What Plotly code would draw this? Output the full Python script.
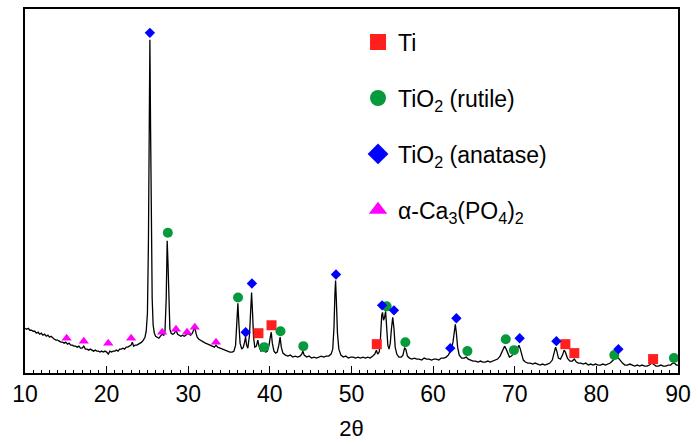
import plotly.graph_objects as go

# XRD pattern: diffraction angle (2θ, degrees) and intensity (a.u.)
two_theta = [
    10.0, 10.2, 10.4, 10.6, 10.8, 11.0, 11.2, 11.4, 11.6, 11.8, 12.0, 12.2, 12.4, 12.6, 12.8,
    13.0, 13.2, 13.4, 13.6, 13.8, 14.0, 14.2, 14.4, 14.6, 14.8, 15.0, 15.2, 15.4, 15.6, 15.8,
    16.0, 16.2, 16.4, 16.6, 16.8, 17.0, 17.2, 17.4, 17.6, 17.8, 18.0, 18.2, 18.4, 18.6, 18.8,
    19.0, 19.2, 19.4, 19.6, 19.8, 20.0, 20.2, 20.4, 20.6, 20.8, 21.0, 21.2, 21.4, 21.6, 21.8,
    22.0, 22.2, 22.4, 22.6, 22.8, 23.0, 23.15, 23.3, 23.5, 23.7, 23.9, 24.1, 24.3, 24.5, 24.7,
    24.85, 25.0, 25.12, 25.22, 25.3, 25.38, 25.48, 25.58, 25.7, 25.85, 26.0, 26.2, 26.4, 26.6,
    26.8, 27.0, 27.15, 27.3, 27.42, 27.52, 27.62, 27.75, 27.9, 28.1, 28.3, 28.5, 28.7, 28.9,
    29.1, 29.3, 29.5, 29.7, 29.9, 30.1, 30.3, 30.5, 30.65, 30.8, 30.95, 31.1, 31.3, 31.5, 31.8,
    32.1, 32.4, 32.7, 33.0, 33.2, 33.4, 33.6, 33.9, 34.2, 34.5, 34.8, 35.1, 35.4, 35.6, 35.8,
    35.95, 36.08, 36.2, 36.35, 36.55, 36.75, 36.9, 37.02, 37.15, 37.3, 37.5, 37.65, 37.76,
    37.88, 38.0, 38.15, 38.35, 38.52, 38.7, 38.9, 39.1, 39.3, 39.5, 39.7, 39.9, 40.05, 40.17,
    40.3, 40.5, 40.7, 40.9, 41.1, 41.25, 41.4, 41.6, 41.9, 42.2, 42.5, 42.8, 43.1, 43.4, 43.7,
    43.9, 44.05, 44.2, 44.5, 44.8, 45.1, 45.4, 45.7, 46.0, 46.3, 46.6, 46.9, 47.2, 47.5, 47.7,
    47.85, 47.97, 48.05, 48.15, 48.28, 48.45, 48.7, 49.0, 49.3, 49.6, 49.9, 50.2, 50.5, 50.8,
    51.1, 51.4, 51.7, 52.0, 52.3, 52.6, 52.85, 53.05, 53.2, 53.4, 53.55, 53.7, 53.8, 53.92,
    54.05, 54.18, 54.3, 54.45, 54.6, 54.75, 54.9, 55.05, 55.2, 55.35, 55.55, 55.8, 56.1, 56.3,
    56.5, 56.65, 56.85, 57.1, 57.4, 57.7, 58.0, 58.3, 58.6, 58.9, 59.2, 59.5, 59.8, 60.1, 60.4,
    60.7, 61.0, 61.3, 61.6, 61.85, 62.05, 62.25, 62.45, 62.6, 62.72, 62.85, 63.0, 63.2, 63.5,
    63.8, 64.05, 64.3, 64.6, 64.9, 65.2, 65.5, 65.8, 66.1, 66.4, 66.7, 67.0, 67.3, 67.6, 67.9,
    68.2, 68.5, 68.75, 68.95, 69.15, 69.35, 69.6, 69.85, 70.1, 70.35, 70.5, 70.65, 70.85, 71.05,
    71.3, 71.6, 71.9, 72.2, 72.5, 72.8, 73.1, 73.4, 73.7, 74.0, 74.3, 74.6, 74.85, 75.0, 75.15,
    75.35, 75.6, 75.85, 76.05, 76.2, 76.45, 76.75, 77.05, 77.3, 77.55, 77.8, 78.1, 78.4, 78.7,
    79.0, 79.3, 79.6, 79.9, 80.2, 80.5, 80.8, 81.1, 81.4, 81.7, 81.95, 82.2, 82.45, 82.7, 82.95,
    83.2, 83.5, 83.8, 84.1, 84.4, 84.7, 85.0, 85.3, 85.6, 85.9, 86.2, 86.5, 86.8, 87.0, 87.3,
    87.6, 87.9, 88.2, 88.5, 88.8, 89.1, 89.35, 89.55, 89.8, 90.0,
]
intensity = [
    45, 44, 45, 43, 43, 42, 42, 40, 41, 39, 40, 38, 39, 37, 38,
    36, 37, 35, 34, 33, 33, 32, 31, 31, 30, 31, 29, 30, 28, 28,
    27, 27, 26, 27, 25, 25, 27, 24, 24, 23, 24, 23, 22, 23, 22,
    22, 21, 22, 21, 22, 21, 19, 22, 21, 22, 22, 23, 22, 24, 24,
    25, 24, 26, 26, 27, 28, 31, 27, 28, 28, 29, 30, 31, 33, 36,
    42, 60, 130, 250, 335, 250, 140, 75, 48, 40, 37, 36, 35, 37,
    39, 38, 42, 75, 133, 110, 65, 44, 40, 39, 40, 43, 39, 38,
    37, 38, 37, 38, 40, 39, 38, 40, 44, 46, 40, 36, 34, 33, 31,
    30, 29, 28, 27, 26, 28, 26, 25, 24, 23, 22, 21, 21, 22, 28,
    50, 70, 50, 30, 24, 26, 31, 36, 28, 25, 38, 65, 81,
    60, 36, 26, 27, 33, 26, 22, 23, 25, 21, 22, 28, 36, 41,
    30, 22, 20, 21, 28, 36, 26, 20, 18, 17, 18, 16, 17, 16, 17,
    19, 22, 18, 16, 17, 15, 16, 15, 16, 17, 16, 17, 17, 19, 24,
    45, 80, 93, 72, 40, 24, 18, 16, 17, 15, 16, 16, 15, 16,
    15, 16, 15, 16, 15, 17, 19, 23, 19, 21, 35, 58, 61, 53,
    56, 62, 50, 28, 24, 30, 45, 56, 45, 26, 19, 16, 16, 18,
    25, 24, 17, 15, 14, 15, 14, 14, 13, 15, 14, 14, 13, 14, 14,
    13, 15, 15, 16, 18, 21, 24, 32, 44, 49, 40, 26, 18, 15,
    15, 16, 14, 13, 12, 12, 11, 12, 11, 11, 12, 11, 12, 13, 14,
    17, 22, 27, 24, 19, 16, 17, 19, 22, 25, 28, 25, 18, 13,
    11, 10, 10, 9, 10, 9, 8, 9, 8, 9, 10, 13, 22, 26, 22,
    15, 14, 18, 23, 21, 15, 12, 12, 14, 11, 10, 10, 9, 10,
    8, 9, 8, 9, 8, 8, 9, 8, 9, 10, 12, 14, 16, 15, 12,
    10, 8, 8, 9, 8, 7, 8, 7, 8, 7, 7, 8, 10, 9, 7,
    7, 8, 7, 7, 8, 8, 10, 10, 8, 8,
]

# Phase identification marks (2θ position, height of the mark)
ti_2theta = [38.6, 40.2, 53.1, 76.2, 77.3, 86.95]
ti_mark = [40, 48, 29, 29, 20, 14]

rutile_2theta = [27.5, 36.1, 39.3, 41.3, 44.1, 54.3, 56.6, 64.2, 68.9, 69.9, 82.2, 89.5]
rutile_mark = [141, 76, 26, 42, 27, 67, 31, 22, 34, 23, 18, 15]

anatase_2theta = [25.3, 37.03, 37.8, 48.1, 53.75, 55.2, 62.1, 62.85, 70.6, 75.1, 82.7]
anatase_mark = [342, 41, 90, 99, 68, 63, 25, 55, 35, 32, 24]

tcp_2theta = [15.1, 17.2, 20.2, 23.0, 26.8, 28.5, 29.85, 30.8, 33.4]
tcp_mark = [35, 32, 30, 35, 41, 44, 41, 46, 31]

phases = [
    ("Ti", ti_2theta, ti_mark, "square", "#ff1f1f", 10),
    ("TiO<sub>2</sub> (rutile)", rutile_2theta, rutile_mark, "circle", "#079a3d", 10),
    ("TiO<sub>2</sub> (anatase)", anatase_2theta, anatase_mark, "diamond", "#0000ff", 8),
    ("α-Ca<sub>3</sub>(PO<sub>4</sub>)<sub>2</sub>", tcp_2theta, tcp_mark, "triangle-up", "#ff00ff", 9),
]

FONT = "Arial, 'Liberation Sans', sans-serif"

fig = go.Figure()

fig.add_trace(go.Scatter(
    x=two_theta, y=intensity, mode="lines",
    line=dict(color="black", width=1.3),
    showlegend=False, hoverinfo="skip",
))

for i, (name, xs, ys, symbol, color, size) in enumerate(phases):
    fig.add_trace(go.Scatter(
        x=xs, y=ys, mode="markers", name=name,
        marker=dict(symbol=symbol, color=color, size=size, line=dict(width=0)),
        showlegend=False,
    ))
    # larger legend symbol
    fig.add_trace(go.Scatter(
        x=[None], y=[None], mode="markers", name=name,
        legendgroup=f"g{i}",
        marker=dict(symbol=symbol, color=color, size=16, line=dict(width=0)),
    ))

fig.update_layout(
    width=698, height=444,
    margin=dict(l=25, r=15, t=7, b=71),
    paper_bgcolor="white", plot_bgcolor="white",
    font=dict(family=FONT, color="black", size=23),
    xaxis=dict(
        range=[10, 90], dtick=10, tick0=10,
        ticks="inside", ticklen=7, tickwidth=1.3, tickcolor="black",
        minor=dict(dtick=1, ticks="inside", ticklen=3, tickwidth=1, tickcolor="black"),
        showline=True, linecolor="black", linewidth=1.5, mirror=True,
        showgrid=False, zeroline=False,
        tickfont=dict(size=23),
        title=dict(text="2θ", font=dict(size=22), standoff=14),
    ),
    xaxis2=dict(
        overlaying="x", matches="x", anchor="y", side="bottom",
        range=[10, 90], tickvals=[15, 25, 35, 45, 55, 65, 75, 85],
        ticks="inside", ticklen=5, tickwidth=1, tickcolor="black",
        showticklabels=False, showline=False, showgrid=False, zeroline=False,
    ),
    yaxis=dict(
        range=[0, 366], showticklabels=False, ticks="",
        showline=True, linecolor="black", linewidth=1.5, mirror=True,
        showgrid=False, zeroline=False,
    ),
    legend=dict(
        x=0.51, y=0.968, xanchor="left", yanchor="top",
        font=dict(size=23, family=FONT),
        traceorder="grouped", tracegroupgap=23,
        bgcolor="rgba(0,0,0,0)",
    ),
)

fig.write_html("out.html")
